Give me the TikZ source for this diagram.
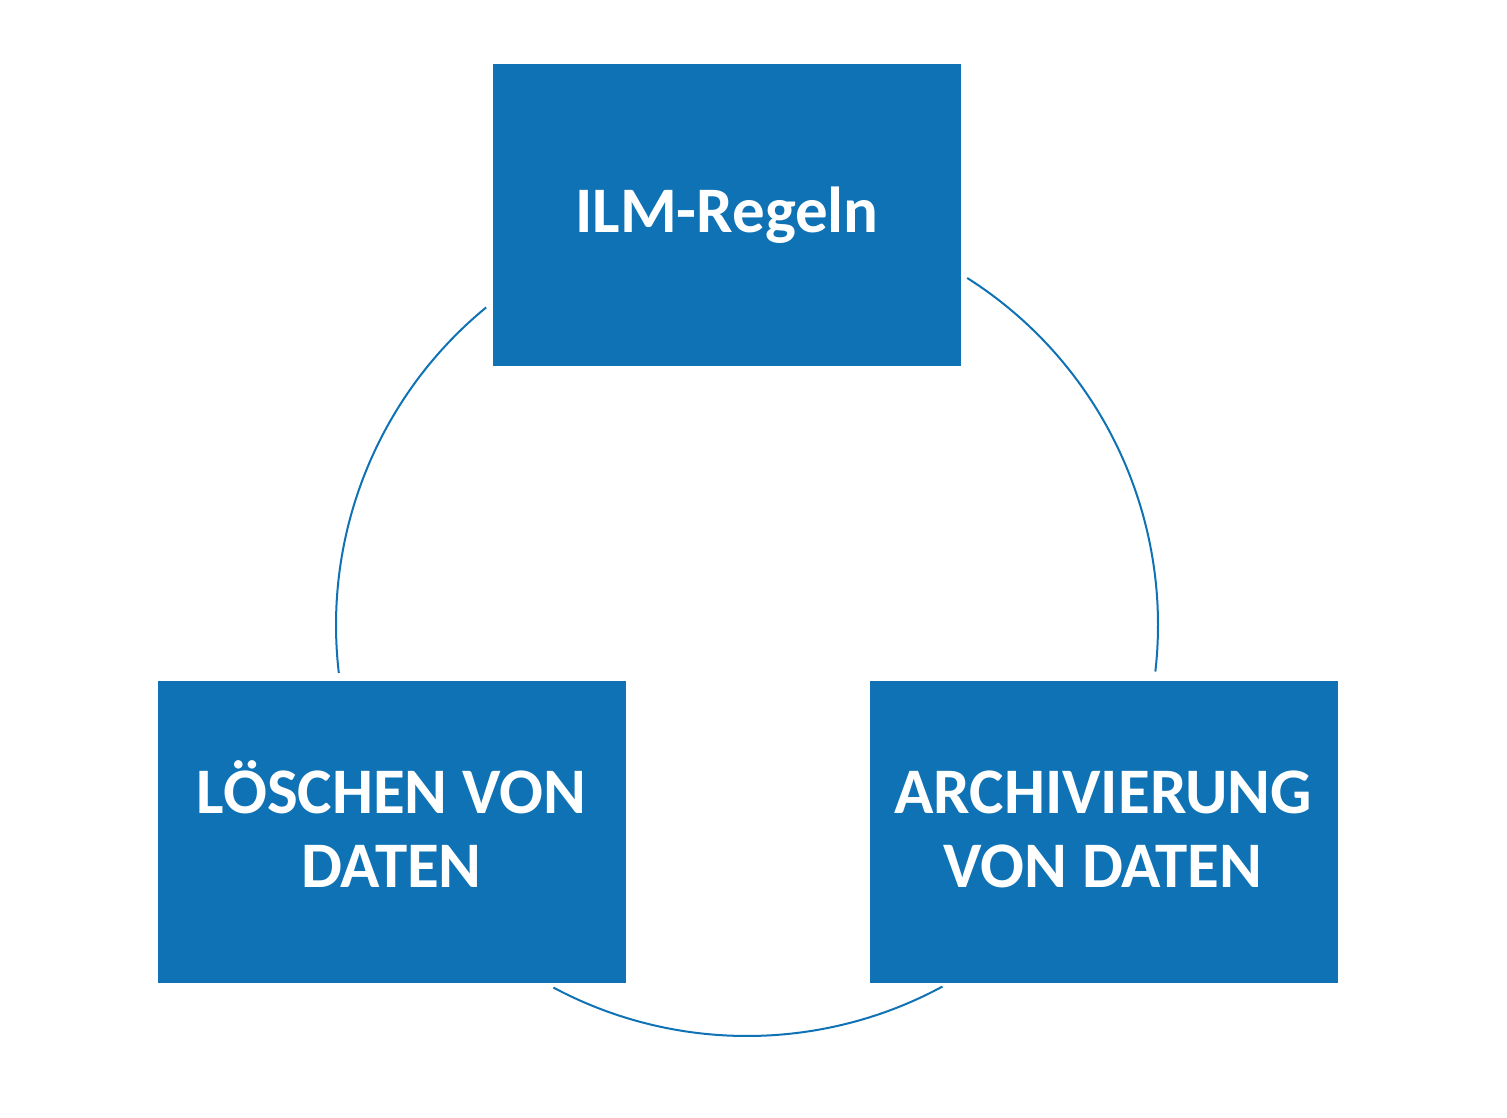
\documentclass[tikz,border=0pt]{standalone}
\usepackage{fontspec}
\setmainfont{Carlito}
\definecolor{ilmblue}{RGB}{14,114,181}
\begin{document}
\begin{tikzpicture}[x=1pt,y=-1pt,
  box/.style={fill=ilmblue,draw=none,minimum width=468pt,minimum height=302pt,inner sep=0pt},
  lbl/.style={text=white,font=\fontsize{65}{74}\selectfont\bfseries,inner sep=0pt,anchor=base},
  cyc/.style={draw=ilmblue,line width=2pt}]
\useasboundingbox (0,0) rectangle (1507,1118);
\node[box] (ilm) at (727,215) {};
\node[box] (del) at (391.5,831.5) {};
\node[box] (arc) at (1104,831.5) {};
\node[lbl] (ilmt) at (727,233) {ILM-Regeln};
\node[lbl] (delt1) at (391.5,813) {LÖSCHEN VON};
\node[lbl] (delt2) at (391.5,887) {DATEN};
\node[lbl] (arct1) at (1103,813) {ARCHIVIERUNG};
\node[lbl] (arct2) at (1103,887) {VON DATEN};
\coordinate (c) at (747,625);
\draw[cyc] (c) ++(-129.4:411) arc[start angle=-129.4,end angle=-186.7,radius=411];
\draw[cyc] (c) ++(-57.6:411) arc[start angle=-57.6,end angle=6.5,radius=411];
\draw[cyc] (c) ++(-241.9:411) arc[start angle=-241.9,end angle=-298.4,radius=411];
\end{tikzpicture}
\end{document}
